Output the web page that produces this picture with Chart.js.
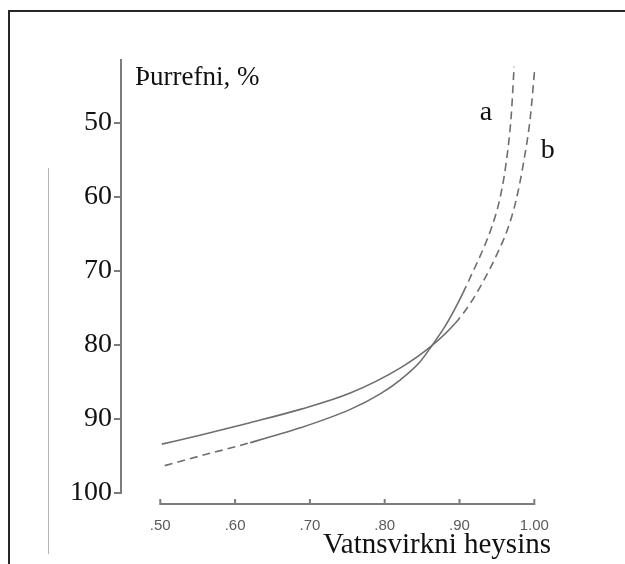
<!DOCTYPE html>
<html>
<head>
<meta charset="utf-8">
<title>Þurrefni og vatnsvirkni</title>
<script src="https://cdn.jsdelivr.net/npm/chart.js@4.4.1/dist/chart.umd.min.js"></script>
<style>
  body { margin: 0; background: #fff; }
  #wrap { position: relative; width: 625px; height: 564px; overflow: hidden; }
  #frame {
    position: absolute; left: 8px; top: 10px; right: -4px; bottom: -4px;
    border-top: 2px solid #262626; border-left: 2px solid #262626;
  }
  #edge { position: absolute; left: 48px; top: 168px; width: 1px; height: 386px; background: #b4b4b4; }
  canvas { position: absolute; left: 0; top: 0; }
</style>
</head>
<body>
<div id="wrap">
  <div id="frame"></div>
  <div id="edge"></div>
  <canvas id="my-chart" width="625" height="564"></canvas>
</div>
<script>
'use strict';

// curve a: water activity vs dry matter %
let aWater = [0.506, 0.553, 0.620, 0.687, 0.754, 0.794, 0.821, 0.847, 0.863, 0.880, 0.894, 0.9045, 0.917, 0.931, 0.943, 0.9536, 0.9615, 0.969, 0.973];
let aDry = [96.3, 95.0, 93.2, 91.2, 88.7, 86.6, 84.7, 82.3, 80.1, 77.6, 75.1, 73.0, 70.3, 67.2, 64.1, 60.4, 56.0, 49.2, 42.4];

// curve b
let bWater = [0.502, 0.553, 0.620, 0.687, 0.754, 0.821, 0.863, 0.894, 0.9143, 0.9328, 0.9498, 0.9645, 0.9753, 0.9845, 0.9947, 1.0006];
let bDry = [93.4, 92.2, 90.5, 88.7, 86.5, 83.1, 80.1, 77.1, 74.4, 71.2, 67.8, 64.3, 60.6, 56.0, 49.2, 42.6];

let xTicks = [0.5, 0.6, 0.7, 0.8, 0.9, 1.0];
let yTicks = [50, 60, 70, 80, 90, 100];

let curveNames = ['a', 'b'];
let nameX = [0.9355, 1.018];
let nameY = [49.6, 54.7];

// where each curve is drawn solid, outside it is dashed
let solidA = [0.600, 0.900];
let solidB = [0, 0.894];

let canvasElem = document.getElementById('my-chart');

function toPoints(xs, ys) {
  let pts = [];
  for (let i = 0; i < xs.length; i++) {
    pts.push({ x: xs[i], y: ys[i] });
  }
  return pts;
}

function dashFor(ctx, range) {
  let x = ctx.p0.parsed.x;
  return (x >= range[0] && x < range[1]) ? [] : [8, 5];
}

function tickText(v) {
  if (v >= 1) {
    return v.toFixed(2);
  }
  return v.toFixed(2).slice(1);
}

let serif = '"Liberation Serif", "Times New Roman", serif';

// x axis line sits a little below the plot, and the titles / curve names
let extrasPlugin = {
  id: 'extras',
  afterDraw(chart) {
    let ctx = chart.ctx;
    let xs = chart.scales.x;
    let ys = chart.scales.y;
    let lineY = 504;

    ctx.save();
    ctx.strokeStyle = '#7c7c7c';
    ctx.lineWidth = 2;
    ctx.beginPath();
    ctx.moveTo(xs.getPixelForValue(xTicks[0]) - 1, lineY);
    ctx.lineTo(xs.getPixelForValue(xTicks[xTicks.length - 1]) + 1, lineY);
    for (let i = 0; i < xTicks.length; i++) {
      let px = xs.getPixelForValue(xTicks[i]);
      ctx.moveTo(px, lineY);
      ctx.lineTo(px, lineY - 5);
    }
    ctx.stroke();

    ctx.fillStyle = '#111';
    ctx.textBaseline = 'alphabetic';

    ctx.font = '27px ' + serif;
    ctx.textAlign = 'left';
    ctx.fillText('Þurrefni, %', 135, 85);

    ctx.font = '29px ' + serif;
    ctx.textAlign = 'right';
    ctx.fillText('Vatnsvirkni heysins', 551, 553);

    ctx.font = '28px ' + serif;
    ctx.textAlign = 'center';
    for (let i = 0; i < curveNames.length; i++) {
      ctx.fillText(curveNames[i], xs.getPixelForValue(nameX[i]), ys.getPixelForValue(nameY[i]));
    }
    ctx.restore();
  }
};

let lineColor = '#6e6e6e';

let chartObj = {
  type: 'line',
  data: {
    datasets: [{
      label: 'a',
      data: toPoints(aWater, aDry),
      borderColor: lineColor,
      borderWidth: 1.6,
      pointRadius: 0,
      cubicInterpolationMode: 'monotone',
      segment: { borderDash: ctx => dashFor(ctx, solidA) }
    },
    {
      label: 'b',
      data: toPoints(bWater, bDry),
      borderColor: lineColor,
      borderWidth: 1.6,
      pointRadius: 0,
      cubicInterpolationMode: 'monotone',
      segment: { borderDash: ctx => dashFor(ctx, solidB) }
    }]
  },
  options: {
    responsive: false,
    animation: false,
    layout: { padding: { left: 0, top: 60, right: 55, bottom: 0 } },
    plugins: {
      legend: { display: false },
      tooltip: { enabled: false }
    },
    scales: {
      x: {
        type: 'linear',
        min: 0.4475,
        max: 1.0477,
        afterBuildTicks: scale => { scale.ticks = xTicks.map(v => ({ value: v })); },
        afterFit: scale => { scale.height = 71; },
        border: { display: false },
        grid: { display: false, drawTicks: false },
        ticks: {
          autoSkip: false,
          maxRotation: 0,
          padding: 24,
          color: '#5a5a5a',
          font: { family: '"Liberation Sans", Arial, sans-serif', size: 15 },
          callback: v => tickText(v)
        }
      },
      y: {
        reverse: true,
        min: 41.5,
        max: 100,
        afterBuildTicks: scale => { scale.ticks = yTicks.map(v => ({ value: v })); },
        afterFit: scale => { scale.width = 121; },
        border: { display: true, color: '#7c7c7c', width: 2 },
        grid: { drawOnChartArea: false, drawTicks: true, tickLength: 7, color: '#7c7c7c', lineWidth: 2 },
        ticks: {
          padding: 2,
          color: '#111',
          font: { family: serif, size: 28 }
        }
      }
    }
  },
  plugins: [extrasPlugin]
};

new Chart(canvasElem, chartObj); //eslint-disable-line
</script>
</body>
</html>
